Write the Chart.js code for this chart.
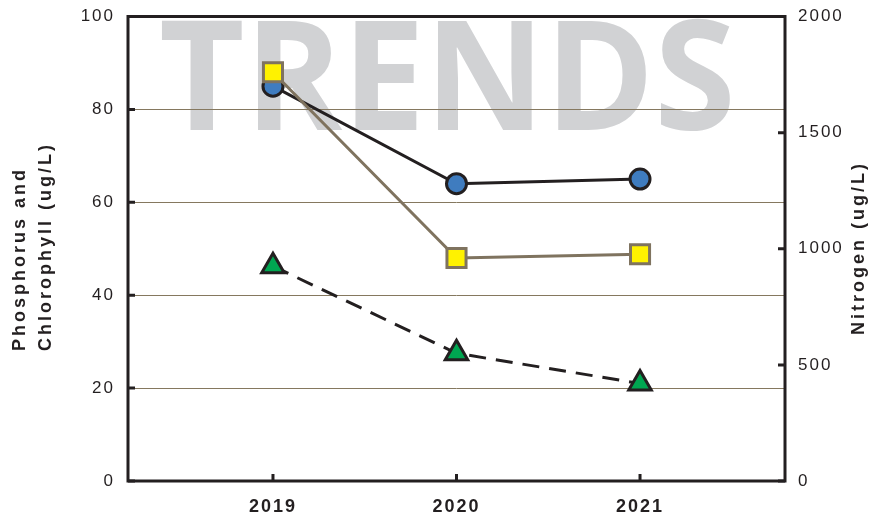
<!DOCTYPE html>
<html><head><meta charset="utf-8">
<script src="https://cdn.jsdelivr.net/npm/chart.js@4/dist/chart.umd.min.js"></script>
<style>html,body{margin:0;padding:0;background:#fff}#wrap{width:886px;height:516px}</style>
</head><body><div id="wrap"><canvas id="c" width="886" height="516"></canvas></div>
<script>
// ---- data ----
const years = [2019, 2020, 2021];
const circleSeries = [85, 64, 65];      // blue circles, solid black line (left axis, ug/L)
const squareSeries = [88, 48, 48.8];    // yellow squares, grey-brown line (left axis, ug/L)
const nitrogen = [925, 550, 420];       // green triangles, dashed line (right axis, ug/L)
const leftTicks = [0, 20, 40, 60, 80, 100];
const rightTicks = [0, 500, 1000, 1500, 2000];
const leftTitle = ['Phosphorus and', 'Chlorophyll (ug/L)'];
const rightTitle = 'Nitrogen (ug/L)';
const watermark = 'TRENDS';

const INK = '#231F20';
const FONT = '"Liberation Sans", Arial, sans-serif';

function pts(vals) { return years.map((y, i) => ({ x: y, y: vals[i] })); }

const spacing = {
  id: 'spacing',
  beforeLayout(chart) { chart.ctx.letterSpacing = '2px'; },
  beforeDraw(chart) { chart.ctx.letterSpacing = '2px'; }
};

const wm = {
  id: 'wm',
  beforeDraw(chart) {
    const ctx = chart.ctx;
    ctx.save();
    ctx.letterSpacing = '0px';
    ctx.font = '700 155px "Open Sans"';
    let m = ctx.measureText(watermark);
    const size = 155 * 110 / m.actualBoundingBoxAscent;
    ctx.font = '700 ' + size + 'px "Open Sans"';
    m = ctx.measureText(watermark);
    const inkW = m.actualBoundingBoxLeft + m.actualBoundingBoxRight;
    const sx = 568 / inkW;
    ctx.translate(162, 130);
    ctx.scale(sx, 1);
    ctx.fillStyle = '#D1D2D4';
    ctx.textBaseline = 'alphabetic';
    ctx.textAlign = 'left';
    ctx.fillText(watermark, m.actualBoundingBoxLeft, 0);
    ctx.restore();
  }
};

const frame = {
  id: 'frame',
  beforeDatasetsDraw(chart) {
    const ctx = chart.ctx, a = chart.chartArea;
    const sy = chart.scales.y, sy2 = chart.scales.y2, sx = chart.scales.x;
    ctx.save();
    ctx.strokeStyle = INK;
    ctx.lineWidth = 3;
    ctx.lineCap = 'butt';
    ctx.beginPath();
    leftTicks.forEach(v => { const p = sy.getPixelForValue(v); ctx.moveTo(a.left, p); ctx.lineTo(a.left + 7, p); });
    rightTicks.forEach(v => { const p = sy2.getPixelForValue(v); ctx.moveTo(a.right, p); ctx.lineTo(a.right - 7, p); });
    years.forEach(v => { const p = sx.getPixelForValue(v); ctx.moveTo(p, a.bottom); ctx.lineTo(p, a.bottom - 7); });
    ctx.stroke();
    ctx.lineJoin = 'miter';
    ctx.strokeRect(a.left, a.top, a.right - a.left, a.bottom - a.top);
    ctx.restore();
  }
};

const titles = {
  id: 'titles',
  afterDraw(chart) {
    const ctx = chart.ctx;
    ctx.save();
    ctx.fillStyle = INK;
    ctx.font = 'bold 18px ' + FONT;
    ctx.letterSpacing = '3px';
    ctx.textBaseline = 'middle';
    ctx.textAlign = 'left';
    [20.5, 46].forEach((cx, i) => {
      ctx.save();
      ctx.translate(cx, 351);
      ctx.rotate(-Math.PI / 2);
      ctx.fillText(leftTitle[i], 0, 0);
      ctx.restore();
    });
    ctx.save();
    ctx.translate(859, 248);
    ctx.rotate(-Math.PI / 2);
    ctx.textAlign = 'center';
    ctx.fillText(rightTitle, 0, 0);
    ctx.restore();
    ctx.restore();
  }
};

function fitV(w) {
  return s => { s.width = w; s.paddingTop = 0; s.paddingBottom = 0; };
}

new Chart(document.getElementById('c'), {
  type: 'line',
  data: {
    datasets: [
      {
        data: pts(squareSeries), yAxisID: 'y',
        borderColor: '#7F735F', borderWidth: 3, tension: 0,
        pointStyle: 'rect', pointRadius: 13.5, pointBackgroundColor: '#FFF200',
        pointBorderColor: '#7F735F', pointBorderWidth: 3
      },
      {
        data: pts(circleSeries), yAxisID: 'y',
        borderColor: INK, borderWidth: 3, tension: 0,
        pointStyle: 'circle', pointRadius: 10, pointBackgroundColor: '#3F7CBF',
        pointBorderColor: INK, pointBorderWidth: 3
      },
      {
        data: pts(nitrogen), yAxisID: 'y2',
        borderColor: INK, borderWidth: 3, borderDash: [17, 10], tension: 0,
        pointStyle: 'triangle', pointRadius: 13, pointBackgroundColor: '#00A651',
        pointBorderColor: INK, pointBorderWidth: 3
      }
    ]
  },
  options: {
    responsive: false, animation: false, devicePixelRatio: 1,
    layout: { padding: { top: 16, left: 0, right: 0, bottom: 0 } },
    plugins: { legend: { display: false }, tooltip: { enabled: false } },
    scales: {
      x: {
        type: 'linear', min: 2018.21, max: 2021.79,
        afterBuildTicks: s => { s.ticks = years.map(v => ({ value: v })); },
        afterFit: s => { s.height = 35; s.paddingLeft = 0; s.paddingRight = 0; },
        grid: { display: false, drawTicks: false }, border: { display: false },
        ticks: { padding: 15, color: INK, font: { family: FONT, size: 18, weight: 'bold' }, callback: v => String(v), maxRotation: 0 }
      },
      y: {
        position: 'left', min: 0, max: 100,
        afterBuildTicks: s => { s.ticks = leftTicks.map(v => ({ value: v })); },
        afterFit: fitV(128),
        grid: { color: c => (c.tick && c.tick.value > 0 && c.tick.value < 100) ? '#85785F' : 'rgba(0,0,0,0)', lineWidth: 1, drawTicks: false },
        border: { display: false },
        ticks: { padding: 13, color: INK, font: { family: FONT, size: 17 }, callback: v => String(v) }
      },
      y2: {
        position: 'right', min: 0, max: 2000,
        afterBuildTicks: s => { s.ticks = rightTicks.map(v => ({ value: v })); },
        afterFit: fitV(101),
        grid: { display: false, drawTicks: false }, border: { display: false },
        ticks: { padding: 13, color: INK, font: { family: FONT, size: 17 }, callback: v => String(v) }
      }
    }
  },
  plugins: [spacing, wm, frame, titles]
});
</script>
</body></html>
